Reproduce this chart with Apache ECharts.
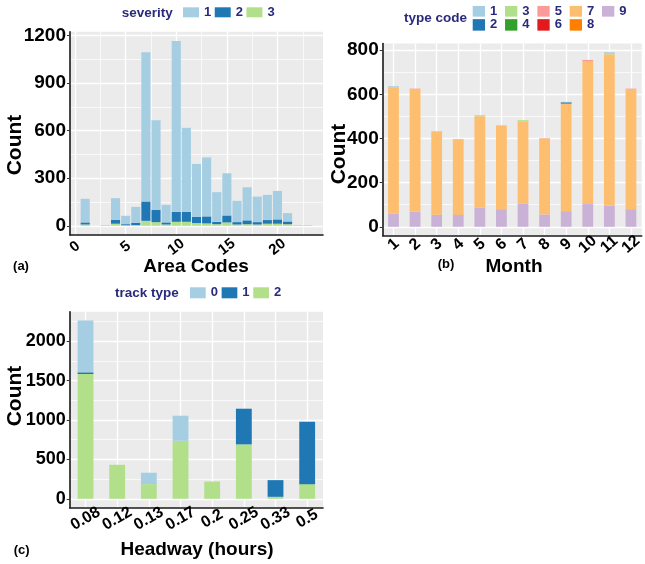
<!DOCTYPE html>
<html>
<head>
<meta charset="utf-8">
<script src="https://cdn.jsdelivr.net/npm/echarts@6/dist/echarts.min.js"></script>
<style>
  html, body { margin: 0; padding: 0; background: #ffffff; }
  #chart { width: 645px; height: 564px; }
</style>
</head>
<body>
<div id="chart"></div>
<script>
// ---- (a) crashes by area code, stacked by severity ----
const areaCodes = ['0','1','2','3','4','5','6','7','8','9','10','11','12','13','14','15','16','17','18','19','20','21','22','23','24'];
const severity1 = [0,149,0,4,136,53,100,942,566,111,1078,530,333,372,187,266,134,209,161,159,180,53,4,4,0];
const severity2 = [0,13,0,0,25,7,15,122,77,13,63,63,40,44,15,44,15,24,15,23,27,17,0,0,0];
const severity3 = [0,8,0,0,13,3,4,31,23,8,25,25,17,15,10,21,8,10,8,13,13,10,0,0,0];
const areaTicks = [0, 300, 600, 900, 1200];
const areaMinorTicks = [150, 450, 750, 1050];

// ---- (b) crashes by month, stacked by type code ----
const months = ['1','2','3','4','5','6','7','8','9','10','11','12'];
const type1 = [5,0,0,0,2,0,0,0,2,0,4,0];
const type2 = [0,0,0,0,0,0,0,0,6,0,0,0];
const type3 = [3,0,0,0,3,3,5,0,0,0,5,0];
const type4 = [0,0,0,0,0,0,0,0,0,0,0,0];
const type5 = [0,2,2,2,0,0,0,2,0,5,0,2];
const type6 = [0,0,0,0,0,0,0,0,0,0,0,0];
const type7 = [570,556,376,340,413,377,374,344,487,648,687,544];
const type8 = [0,0,0,2,0,0,0,0,0,0,0,0];
const type9 = [59,68,54,54,88,80,104,56,71,103,95,80];
const monthTicks = [0, 200, 400, 600, 800];
const monthMinorTicks = [100, 300, 500, 700];

// ---- (c) crashes by headway, stacked by track type ----
const headways = ['0.08','0.12','0.13','0.17','0.2','0.25','0.33','0.5'];
const track0 = [657,0,145,318,0,0,0,0];
const track1 = [21,0,0,0,0,453,212,793];
const track2 = [1585,432,186,737,220,691,25,186];
const headwayTicks = [0, 500, 1000, 1500, 2000];
const headwayMinorTicks = [250, 750, 1250, 1750, 2250];

// Brewer "Paired" palette
const paired = ['#A6CEE3','#1F78B4','#B2DF8A','#33A02C','#FB9A99','#E31A1C','#FDBF6F','#FF7F00','#CAB2D6'];

const FONT = 'Liberation Sans, Arial, sans-serif';
const NAVY = '#2a2a7c';
const PANEL_BG = '#EBEBEB';

// ggplot-style 5% expansion of the count range
function expanded(totals) {
  const top = Math.max.apply(null, totals);
  return { min: -0.05 * top, max: top * 1.05 };
}
function totalsOf(lists) {
  return lists[0].map((_, i) => lists.reduce((s, l) => s + l[i], 0));
}
const areaRange = expanded(totalsOf([severity1, severity2, severity3]));
const monthRange = expanded(totalsOf([type1,type2,type3,type4,type5,type6,type7,type8,type9]));
const headwayRange = expanded(totalsOf([track0, track1, track2]));

const tickLabel = { fontFamily: FONT, fontWeight: 'bold', color: '#000' };

function majorY(gridIndex, range, ticks, fontSize) {
  return {
    type: 'value', gridIndex, min: range.min, max: range.max,
    axisLine: { show: true, lineStyle: { color: '#1a1a1a', width: 1.6 } },
    axisTick: { show: true, length: 3, customValues: ticks, lineStyle: { color: '#333', width: 1 } },
    axisLabel: Object.assign({ customValues: ticks, margin: 4, fontSize, formatter: v => String(v) }, tickLabel),
    splitLine: { show: true, lineStyle: { color: '#ffffff', width: 1.3 } }
  };
}
function minorY(gridIndex, range, ticks) {
  return {
    type: 'value', gridIndex, min: range.min, max: range.max,
    axisLine: { show: false },
    axisTick: { show: false, customValues: ticks },
    axisLabel: { show: false, customValues: ticks },
    splitLine: { show: true, lineStyle: { color: '#ffffff', width: 0.7 } }
  };
}

function bar(name, data, color, xi, yi, width) {
  return {
    type: 'bar', name, data, stack: 'panel' + xi, xAxisIndex: xi, yAxisIndex: yi,
    barWidth: width, itemStyle: { color }, emphasis: { disabled: true }, animation: false
  };
}

const legendText = { fontFamily: FONT, fontWeight: 'bold', fontSize: 13, color: NAVY, lineHeight: 14 };
const lastToken = name => name.split(' ').pop();

function label(text, x, y, size, opts) {
  return Object.assign({
    type: 'text', x, y,
    style: { text, fontFamily: FONT, fontWeight: 'bold', fontSize: size, fill: '#000',
             align: 'center', verticalAlign: 'middle' }
  }, opts || {});
}

const option = {
  backgroundColor: '#ffffff',
  animation: false,
  grid: [
    { left: 70, right: 322, top: 31.7, bottom: 329, show: true, backgroundColor: PANEL_BG, borderWidth: 0 },
    { left: 382.7, right: 0, top: 43.5, bottom: 328.5, show: true, backgroundColor: PANEL_BG, borderWidth: 0 },
    { left: 69.7, right: 322, top: 311.7, bottom: 56.3, show: true, backgroundColor: PANEL_BG, borderWidth: 0 }
  ],
  xAxis: [
    {
      type: 'category', gridIndex: 0, data: areaCodes,
      axisLine: { onZero: false, lineStyle: { color: '#1a1a1a', width: 1.6 } },
      axisTick: { length: 3, alignWithLabel: true, interval: (i, v) => Number(v) % 5 === 0, lineStyle: { color: '#333' } },
      axisLabel: Object.assign({ interval: (i, v) => Number(v) % 5 === 0, rotate: 38, align: 'center',
                                 verticalAlign: 'middle', margin: 12, fontSize: 15 }, tickLabel),
      splitLine: { show: true, alignWithLabel: true, interval: (i, v) => Number(v) % 5 === 0,
                   lineStyle: { color: '#ffffff', width: 1.3 } }
    },
    {
      type: 'category', gridIndex: 0, data: areaCodes, position: 'bottom',
      axisLine: { show: false }, axisTick: { show: false }, axisLabel: { show: false },
      splitLine: { show: true, interval: (i) => i % 5 === 3, lineStyle: { color: '#ffffff', width: 0.7 } }
    },
    {
      type: 'category', gridIndex: 1, data: months,
      axisLine: { onZero: false, lineStyle: { color: '#1a1a1a', width: 1.6 } },
      axisTick: { length: 3, alignWithLabel: true, interval: 0, lineStyle: { color: '#333' } },
      axisLabel: Object.assign({ interval: 0, rotate: 42, align: 'center', verticalAlign: 'middle',
                                 margin: 9, fontSize: 16 }, tickLabel),
      splitLine: { show: true, alignWithLabel: true, interval: 0, lineStyle: { color: '#ffffff', width: 1.3 } }
    },
    {
      type: 'category', gridIndex: 2, data: headways,
      axisLine: { onZero: false, lineStyle: { color: '#1a1a1a', width: 1.6 } },
      axisTick: { length: 3, alignWithLabel: true, interval: 0, lineStyle: { color: '#333' } },
      axisLabel: Object.assign({ interval: 0, rotate: 30, align: 'center', verticalAlign: 'middle',
                                 margin: 11, fontSize: 16 }, tickLabel),
      splitLine: { show: true, alignWithLabel: true, interval: 0, lineStyle: { color: '#ffffff', width: 1.3 } }
    }
  ],
  yAxis: [
    majorY(0, areaRange, areaTicks, 19),
    minorY(0, areaRange, areaMinorTicks),
    majorY(1, monthRange, monthTicks, 19),
    minorY(1, monthRange, monthMinorTicks),
    majorY(2, headwayRange, headwayTicks, 18),
    minorY(2, headwayRange, headwayMinorTicks)
  ],
  legend: [
    { data: ['severity 1','severity 2','severity 3'], left: 183, top: 5.3, padding: 0,
      itemWidth: 16, itemHeight: 10, itemGap: 3.5, icon: 'rect', selectedMode: false,
      formatter: lastToken, textStyle: legendText },
    { data: ['type code 1','type code 3','type code 5','type code 7','type code 9'], left: 472.7, top: 4.3, padding: 0,
      itemWidth: 12.3, itemHeight: 10.7, itemGap: 7.8, icon: 'rect', selectedMode: false,
      formatter: lastToken, textStyle: legendText },
    { data: ['type code 2','type code 4','type code 6','type code 8'], left: 472.7, top: 17.9, padding: 0,
      itemWidth: 12.3, itemHeight: 11.5, itemGap: 7.8, icon: 'rect', selectedMode: false,
      formatter: lastToken, textStyle: legendText },
    { data: ['track type 0','track type 1','track type 2'], left: 190, top: 285.8, padding: 0,
      itemWidth: 15.7, itemHeight: 11, itemGap: 3.7, icon: 'rect', selectedMode: false,
      formatter: lastToken, textStyle: legendText }
  ],
  series: [
    // bottom-to-top stacking: highest level sits at the base
    bar('severity 3', severity3, paired[2], 0, 0, '90%'),
    bar('severity 2', severity2, paired[1], 0, 0, '90%'),
    bar('severity 1', severity1, paired[0], 0, 0, '90%'),

    bar('type code 9', type9, paired[8], 2, 2, '50%'),
    bar('type code 8', type8, paired[7], 2, 2, '50%'),
    bar('type code 7', type7, paired[6], 2, 2, '50%'),
    bar('type code 6', type6, paired[5], 2, 2, '50%'),
    bar('type code 5', type5, paired[4], 2, 2, '50%'),
    bar('type code 4', type4, paired[3], 2, 2, '50%'),
    bar('type code 3', type3, paired[2], 2, 2, '50%'),
    bar('type code 2', type2, paired[1], 2, 2, '50%'),
    bar('type code 1', type1, paired[0], 2, 2, '50%'),

    bar('track type 2', track2, paired[2], 3, 4, '50%'),
    bar('track type 1', track1, paired[1], 3, 4, '50%'),
    bar('track type 0', track0, paired[0], 3, 4, '50%')
  ],
  graphic: [
    // axis titles
    label('Count', 15.7, 145, 21, { rotation: Math.PI / 2 }),
    label('Area Codes', 196, 267, 19),
    label('Count', 339, 154, 21, { rotation: Math.PI / 2 }),
    label('Month', 514, 267, 19),
    label('Count', 15.7, 396, 21, { rotation: Math.PI / 2 }),
    label('Headway (hours)', 197, 550, 19),
    // panel tags
    label('(a)', 21, 266, 13),
    label('(b)', 446, 264, 13),
    label('(c)', 21.7, 550, 13),
    // legend titles
    { type: 'text', x: 121.7, y: 13, style: { text: 'severity', fontFamily: FONT, fontWeight: 'bold', fontSize: 13.5, fill: NAVY, align: 'left', verticalAlign: 'middle' } },
    { type: 'text', x: 404, y: 18.5, style: { text: 'type code', fontFamily: FONT, fontWeight: 'bold', fontSize: 13.5, fill: NAVY, align: 'left', verticalAlign: 'middle' } },
    { type: 'text', x: 115, y: 293, style: { text: 'track type', fontFamily: FONT, fontWeight: 'bold', fontSize: 13.5, fill: NAVY, align: 'left', verticalAlign: 'middle' } }
  ]
};

const chart = echarts.init(document.getElementById('chart'), null, { renderer: 'canvas' });
chart.setOption(option);
</script>
</body>
</html>
